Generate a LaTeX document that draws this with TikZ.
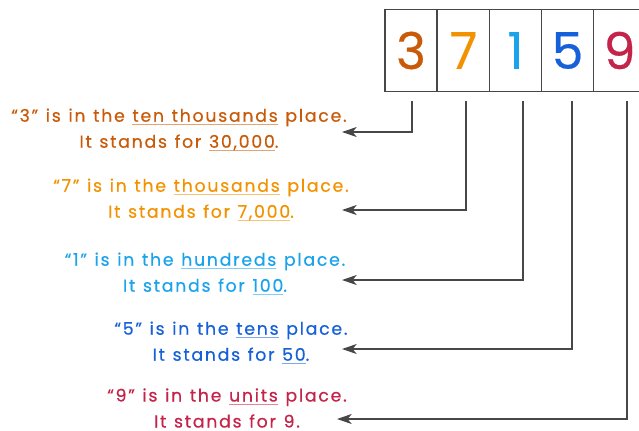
\documentclass[tikz,border=0pt]{standalone}
\usepackage{fontspec}
\setmainfont{Poppins}[FakeBold=0.4]
\newfontfamily\placefont{Poppins}[FakeBold=0.5, LetterSpace=10, WordSpace=1.2]
\usetikzlibrary{arrows.meta,calc}
\definecolor{tthou}{HTML}{C85A08}
\definecolor{thou}{HTML}{F39200}
\definecolor{hund}{HTML}{1AA3EB}
\definecolor{tens}{HTML}{1660D9}
\definecolor{unit}{HTML}{C4234A}
\definecolor{linegray}{HTML}{474747}
\newcommand{\uword}[1]{\setbox0\hbox{#1}\rlap{\color{.!55!white}\rule[-2.8pt]{\wd0}{0.9pt}}\box0\relax}
\tikzset{
    digitbox/.style={draw=linegray, line width=0.9pt, minimum width=39pt, minimum height=62pt, inner sep=0pt, font=\fontsize{38}{38}\selectfont},
    placetext/.style={align=center, inner sep=0pt, font=\placefont\fontsize{13}{19.5}\selectfont},
    pointer/.style={draw=linegray, line width=1.1pt, -{Stealth[length=11pt,width=7.5pt,inset=3pt]}, to path={|- (\tikztotarget)}}
}

\begin{document}
\begin{tikzpicture}[x=0.75pt, y=-0.75pt]
    \clip (0,0) rectangle (639,430);
    \node[digitbox, text=tthou] (d3) at (411,50.5) {3};
    \node[digitbox, text=thou] (d7) at (463.5,50.5) {7};
    \node[digitbox, text=hund] (d1) at (515.5,50.5) {1};
    \node[digitbox, text=tens] (d5) at (567.5,50.5) {5};
    \node[digitbox, text=unit] (d9) at (619.5,50.5) {9};

    \node[placetext, text=tthou] (t3) at (179,130) {“3” is in the \uword{ten thousands} place.\\It stands for \uword{30,000}.};
    \node[placetext, text=thou] (t7) at (201,200) {“7” is in the \uword{thousands} place.\\It stands for \uword{7,000}.};
    \node[placetext, text=hund] (t1) at (205,274) {“1” is in the \uword{hundreds} place.\\It stands for \uword{100}.};
    \node[placetext, text=tens] (t5) at (231,343) {“5” is in the \uword{tens} place.\\It stands for \uword{50}.};
    \node[placetext, text=unit] (t9) at (227,408) {“9” is in the \uword{units} place.\\It stands for 9.};

    \coordinate (s3) at ($(d3.south)+(1,9)$);
    \coordinate (s7) at ($(d7.south)+(2.5,9)$);
    \coordinate (s1) at ($(d1.south)+(7.5,9)$);
    \coordinate (s5) at ($(d5.south)+(4.5,9)$);
    \coordinate (s9) at ($(d9.south)+(7.5,9)$);
    \coordinate (a3) at (342,132);
    \coordinate (a7) at (342,210);
    \coordinate (a1) at (342,280);
    \coordinate (a5) at (342,349);
    \coordinate (a9) at (337,419);

    \path[every edge/.style={pointer}]
      (s3) edge (a3)
      (s7) edge (a7)
      (s1) edge (a1)
      (s5) edge (a5)
      (s9) edge (a9);
\end{tikzpicture}
\end{document}
